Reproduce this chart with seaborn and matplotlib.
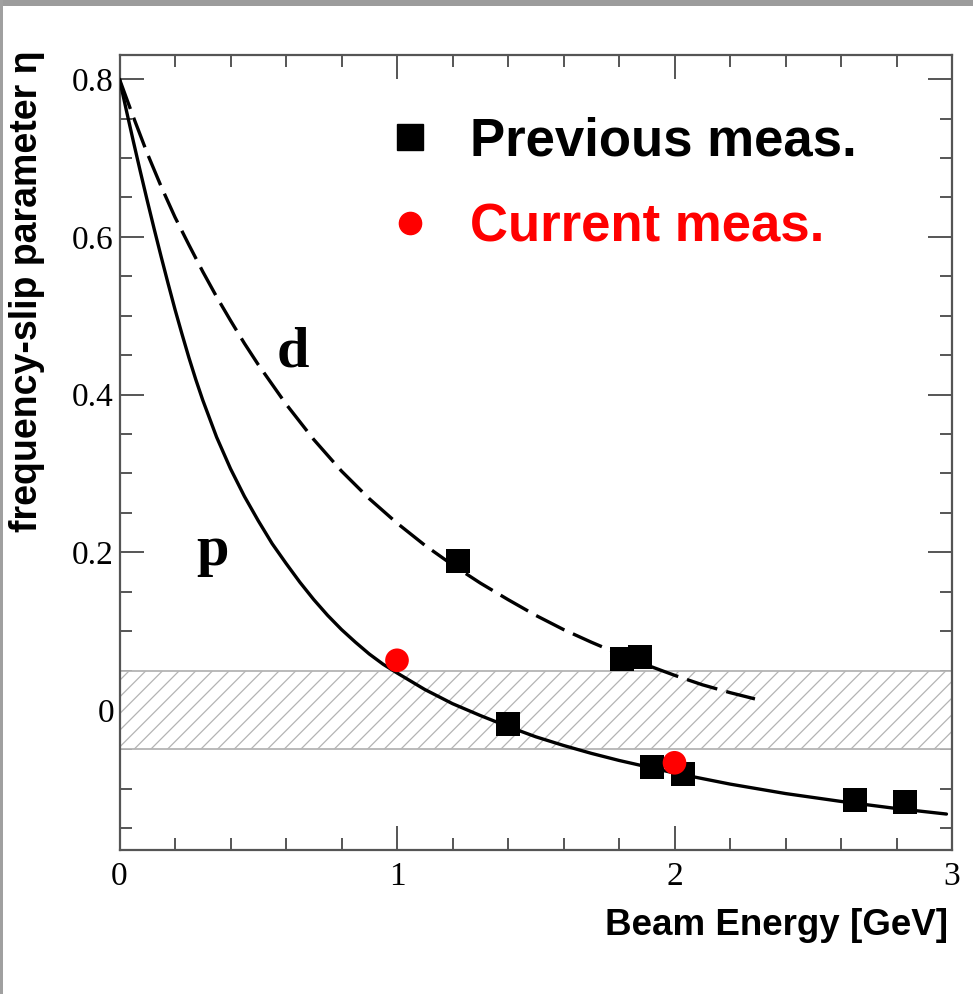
import numpy as np
import pandas as pd
import matplotlib
matplotlib.use("Agg")
import matplotlib.pyplot as plt
import seaborn as sns
from matplotlib.ticker import MultipleLocator, FixedLocator, FixedFormatter
from matplotlib.lines import Line2D
from matplotlib.patches import Rectangle
from matplotlib.font_manager import FontProperties

# ---- data ----
# proton curve (solid)
p_energy = [0.000, 0.025, 0.050, 0.075, 0.100, 0.125, 0.150, 0.175, 0.200, 0.225,
            0.250, 0.275, 0.300, 0.350, 0.400, 0.450, 0.500, 0.550, 0.600, 0.650,
            0.700, 0.750, 0.800, 0.850, 0.900, 0.950, 1.000, 1.100, 1.200, 1.300,
            1.400, 1.500, 1.600, 1.700, 1.800, 1.900, 2.000, 2.200, 2.400, 2.600,
            2.800, 2.980]
p_eta = [0.800, 0.760, 0.721, 0.683, 0.646, 0.610, 0.575, 0.541, 0.508, 0.477,
         0.447, 0.419, 0.393, 0.346, 0.306, 0.271, 0.240, 0.211, 0.186, 0.162,
         0.140, 0.120, 0.102, 0.086, 0.071, 0.058, 0.047, 0.026, 0.008, -0.007,
         -0.021, -0.034, -0.045, -0.055, -0.064, -0.072, -0.080, -0.094, -0.106,
         -0.116, -0.125, -0.132]
# deuteron curve (dashed)
d_energy = [0.00, 0.05, 0.10, 0.15, 0.20, 0.25, 0.30, 0.35, 0.40, 0.45, 0.50, 0.60,
            0.70, 0.80, 0.90, 1.00, 1.10, 1.20, 1.30, 1.40, 1.50, 1.60, 1.70, 1.80,
            1.90, 2.00, 2.10, 2.20, 2.29]
d_eta = [0.800, 0.752, 0.706, 0.664, 0.625, 0.590, 0.556, 0.524, 0.494, 0.465, 0.438,
         0.388, 0.343, 0.303, 0.268, 0.237, 0.209, 0.184, 0.161, 0.140, 0.120, 0.102,
         0.086, 0.071, 0.057, 0.044, 0.032, 0.022, 0.014]
# previous measurements (black squares)
prev_energy = [1.22, 1.81, 1.875, 1.40, 1.92, 2.03, 2.65, 2.83]
prev_eta = [0.189, 0.065, 0.067, -0.018, -0.072, -0.081, -0.114, -0.117]
# current measurements (red circles)
curr_energy = [1.00, 2.00]
curr_eta = [0.063, -0.067]
# band of |eta| < 0.05
band_low, band_high = -0.05, 0.05

x_ticks = [0, 1, 2, 3]
x_ticklabels = ["0", "1", "2", "3"]
y_ticks = [0.0, 0.2, 0.4, 0.6, 0.8]
y_ticklabels = ["0", "0.2", "0.4", "0.6", "0.8"]

sns.set_style("ticks")
plt.rcParams["font.family"] = ["Liberation Serif", "DejaVu Serif"]
plt.rcParams["text.color"] = "black"
plt.rcParams["xtick.labelcolor"] = "black"
plt.rcParams["ytick.labelcolor"] = "black"
plt.rcParams["hatch.color"] = "#b0b0b0"
plt.rcParams["hatch.linewidth"] = 0.9

W, H = 973, 994
fig = plt.figure(figsize=(W / 100, H / 100), dpi=100)
ax = fig.add_axes([119.5 / W, (H - 850) / H, (952 - 119.5) / W, (850 - 55) / H])

# hatched band
ax.axhspan(band_low, band_high, facecolor="white", edgecolor="#b4b4b4",
           hatch="//", linewidth=1.3, zorder=1)

df_p = pd.DataFrame({"E": p_energy, "eta": p_eta})
df_d = pd.DataFrame({"E": d_energy, "eta": d_eta})
sns.lineplot(data=df_p, x="E", y="eta", color="black", lw=2.4, ax=ax,
             sort=False, estimator=None, zorder=3)
sns.lineplot(data=df_d, x="E", y="eta", color="black", lw=2.4, ax=ax,
             sort=False, estimator=None, linestyle=(0, (9.5, 2.8)), zorder=3)

df_prev = pd.DataFrame({"E": prev_energy, "eta": prev_eta})
df_curr = pd.DataFrame({"E": curr_energy, "eta": curr_eta})
sns.scatterplot(data=df_prev, x="E", y="eta", marker="s", s=300, color="black",
                edgecolor="none", linewidth=0, ax=ax, zorder=5)
sns.scatterplot(data=df_curr, x="E", y="eta", marker="o", s=290, color="#ff0000",
                edgecolor="none", linewidth=0, ax=ax, zorder=6)

ax.set_xlim(0, 3)
ax.set_ylim(-0.1776, 0.8307)

ax.xaxis.set_major_locator(FixedLocator(x_ticks))
ax.xaxis.set_major_formatter(FixedFormatter(x_ticklabels))
ax.xaxis.set_minor_locator(MultipleLocator(0.2))
ax.yaxis.set_major_locator(FixedLocator(y_ticks))
ax.yaxis.set_major_formatter(FixedFormatter(y_ticklabels))
ax.yaxis.set_minor_locator(MultipleLocator(0.05))

spine_col = "#555555"
for s in ax.spines.values():
    s.set_color(spine_col)
    s.set_linewidth(1.6)
ax.tick_params(which="both", direction="in", top=True, right=True,
               color=spine_col, width=1.4)
ax.tick_params(which="major", length=17)
ax.tick_params(which="minor", length=8.6)
ax.tick_params(axis="x", which="major", labelsize=24, pad=8, labelcolor="black")
ax.tick_params(axis="y", which="major", labelsize=24, pad=4, labelcolor="black")

ax.set_xlabel("")
ax.set_ylabel("")

# curve labels
ax.text(0.566, 0.435, "d", fontsize=42, fontweight="bold", color="black",
        family="Liberation Serif", ha="left", va="baseline")
ax.text(0.278, 0.184, "p", fontsize=42, fontweight="bold", color="black",
        family="Liberation Serif", ha="left", va="baseline")

# legend
handles = [Line2D([], [], marker="s", color="black", linestyle="none", markersize=19),
           Line2D([], [], marker="o", color="#ff0000", linestyle="none", markersize=16)]
leg = ax.legend(handles, ["Previous meas.", "Current meas."], loc="upper left",
                bbox_to_anchor=((384 - 119.5) / 832.5, (850 - 116) / 795),
                frameon=False, prop=FontProperties(family="Liberation Sans",
                                                    weight="bold", size=38),
                labelcolor=["black", "#ff0000"], handlelength=1.0,
                handletextpad=0.62, borderpad=0, borderaxespad=0,
                labelspacing=0.70)

# axis titles
fig.text(948 / W, (H - 935) / H, "Beam Energy [GeV]", ha="right", va="baseline",
         color="black", fontsize=26.5, fontweight="bold",
         family=["Liberation Sans", "DejaVu Sans"])
fig.text(27 / W, (H - 291) / H, "frequency-slip parameter η", rotation=90,
         ha="center", va="center", color="black", fontsize=27, fontweight="bold",
         family=["Liberation Sans", "DejaVu Sans"])

# screenshot frame
fig.patches.append(Rectangle((0, 1 - 6 / H), 1, 6 / H, transform=fig.transFigure,
                             facecolor="#9c9c9c", edgecolor="none"))
fig.patches.append(Rectangle((0, 0), 3 / W, 1, transform=fig.transFigure,
                             facecolor="#a0a0a0", edgecolor="none"))

fig.savefig("out.png", dpi=100)
